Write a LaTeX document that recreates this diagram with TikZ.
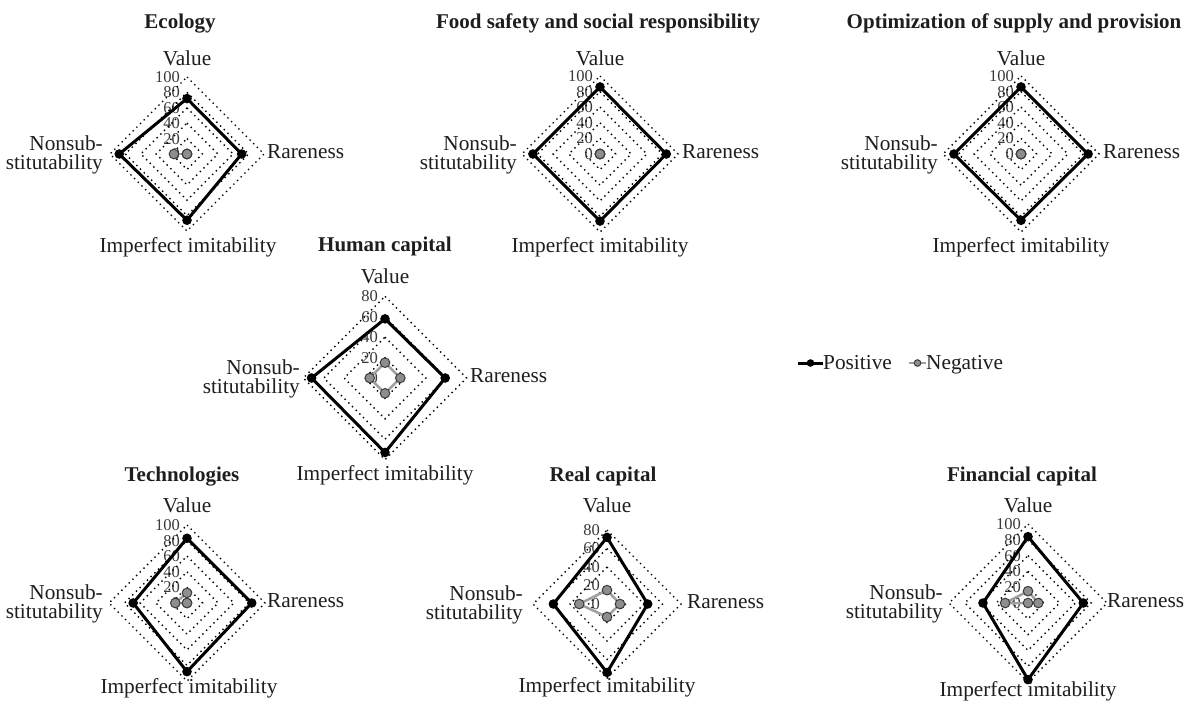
\documentclass[tikz,border=0pt]{standalone}
\usepackage{fontspec}
\setmainfont{Liberation Serif}
\definecolor{neggray}{HTML}{A0A0A0}
\definecolor{negfill}{HTML}{8E8E8E}
\definecolor{negedge}{HTML}{3C3C3C}
\definecolor{txt}{HTML}{1E1E1E}
\definecolor{ticktxt}{HTML}{3A3A3A}
\tikzset{
  ring/.style={black, line width=1.4pt, dash pattern=on 1.4pt off 3.8pt},
  tick/.style={anchor=east, inner sep=0pt, text=ticktxt, font=\fontsize{16.5}{16.5}\selectfont},
  lbl/.style={inner sep=0pt, text=txt, font=\fontsize{21.3}{19}\selectfont},
  ttl/.style={inner sep=0pt, anchor=base, text=txt, font=\fontsize{21}{21}\selectfont\bfseries},
  posline/.style={black, line width=3pt, line join=round},
  poslinedot/.style={fill=black},
  negline/.style={neggray, line width=2.5pt, line join=round},
  neglinedot/.style={fill=negfill, draw=negedge, line width=1pt},
}
% rings and tick labels: #1 name, #2 cx, #3 cy, #4 px per unit, #5 max
\newcommand\radarrings[5]{%
  \foreach \k in {20,40,...,#5}{%
    \draw[ring] (#2,{#3-\k*#4}) -- ({#2+\k*#4},#3) -- (#2,{#3+\k*#4}) -- ({#2-\k*#4},#3) -- cycle;
    \node[tick] (#1t\k) at (#2-7,{#3-\k*#4}) {\k};
  }
  \node[tick] (#1t0) at (#2-7,#3) {0};
}
% series: #1 name, #2 cx, #3 cy, #4 px per unit, #5 V, #6 R, #7 I, #8 N, #9 posline/negline
\newcommand\radarseries[9]{%
  \coordinate (#1#9V) at (#2,{#3-#5*#4});
  \coordinate (#1#9R) at ({#2+#6*#4},#3);
  \coordinate (#1#9I) at (#2,{#3+#7*#4});
  \coordinate (#1#9N) at ({#2-#8*#4},#3);
  \draw[#9] (#1#9V) -- (#1#9R) -- (#1#9I) -- (#1#9N) -- cycle;
  \foreach \p in {V,R,I,N}{\path[#9dot] (#1#9\p) circle (4.8pt);}
}
\begin{document}
\begin{tikzpicture}[x=1pt,y=-1pt]
\useasboundingbox[fill=white] (0,0) rectangle (1188,704);

% ---------------- Ecology
\radarrings{eco}{187}{154}{0.77}{100}
\radarseries{eco}{187}{154}{0.77}{72}{71}{86}{88}{posline}
\radarseries{eco}{187}{154}{0.77}{0}{0}{0}{17}{negline}
\node[ttl] (ecoT) at (180,28) {Ecology};
\node[lbl, anchor=base] (ecoLV) at (187,65) {Value};
\node[lbl, anchor=base west] (ecoLR) at (267,158) {Rareness};
\node[lbl, anchor=base] (ecoLI) at (188,252) {Imperfect imitability};
\node[lbl, anchor=east, align=right] (ecoLN) at (103,155) {Nonsub-\\stitutability};

% ---------------- Food safety
\radarrings{food}{600}{154}{0.78}{100}
\radarseries{food}{600}{154}{0.78}{86}{85}{86}{86}{posline}
\radarseries{food}{600}{154}{0.78}{0}{0}{0}{0}{negline}
\node[ttl] (foodT) at (598,28) {Food safety and social responsibility};
\node[lbl, anchor=base] (foodLV) at (600,65) {Value};
\node[lbl, anchor=base west] (foodLR) at (682,158) {Rareness};
\node[lbl, anchor=base] (foodLI) at (600,252) {Imperfect imitability};
\node[lbl, anchor=east, align=right] (foodLN) at (517,155) {Nonsub-\\stitutability};

% ---------------- Optimization
\radarrings{opt}{1021}{154}{0.78}{100}
\radarseries{opt}{1021}{154}{0.78}{86}{86}{85}{86}{posline}
\radarseries{opt}{1021}{154}{0.78}{0}{0}{0}{0}{negline}
\node[ttl] (optT) at (1014,28) {Optimization of supply and provision};
\node[lbl, anchor=base] (optLV) at (1021,65) {Value};
\node[lbl, anchor=base west] (optLR) at (1103,158) {Rareness};
\node[lbl, anchor=base] (optLI) at (1021,252) {Imperfect imitability};
\node[lbl, anchor=east, align=right] (optLN) at (938,155) {Nonsub-\\stitutability};

% ---------------- Human capital
\radarrings{hum}{385}{378}{1.02}{80}
\radarseries{hum}{385}{378}{1.02}{58}{59}{73}{72}{posline}
\radarseries{hum}{385}{378}{1.02}{15}{15}{15}{15}{negline}
\node[ttl] (humT) at (385,251) {Human capital};
\node[lbl, anchor=base] (humLV) at (385,283) {Value};
\node[lbl, anchor=base west] (humLR) at (470,382) {Rareness};
\node[lbl, anchor=base] (humLI) at (385,480) {Imperfect imitability};
\node[lbl, anchor=east, align=right] (humLN) at (300,379) {Nonsub-\\stitutability};

% ---------------- Technologies
\radarrings{tec}{187}{603}{0.78}{100}
\radarseries{tec}{187}{603}{0.78}{83}{83}{88}{69}{posline}
\radarseries{tec}{187}{603}{0.78}{13}{0}{0}{15}{negline}
\node[ttl] (tecT) at (182,481) {Technologies};
\node[lbl, anchor=base] (tecLV) at (187,512) {Value};
\node[lbl, anchor=base west] (tecLR) at (267,607) {Rareness};
\node[lbl, anchor=base] (tecLI) at (189,693) {Imperfect imitability};
\node[lbl, anchor=east, align=right] (tecLN) at (103,604) {Nonsub-\\stitutability};

% ---------------- Real capital
\radarrings{rea}{607}{604}{0.925}{80}
\radarseries{rea}{607}{604}{0.925}{72}{44}{74}{58}{posline}
\radarseries{rea}{607}{604}{0.925}{15}{14}{14}{30}{negline}
\node[ttl] (reaT) at (603,481) {Real capital};
\node[lbl, anchor=base] (reaLV) at (607,512) {Value};
\node[lbl, anchor=base west] (reaLR) at (687,608) {Rareness};
\node[lbl, anchor=base] (reaLI) at (607,692) {Imperfect imitability};
\node[lbl, anchor=east, align=right] (reaLN) at (523,605) {Nonsub-\\stitutability};

% ---------------- Financial capital
\radarrings{fin}{1028}{603}{0.79}{100}
\radarseries{fin}{1028}{603}{0.79}{84}{70}{97}{57}{posline}
\radarseries{fin}{1028}{603}{0.79}{15}{13}{0}{29}{negline}
\node[ttl] (finT) at (1022,481) {Financial capital};
\node[lbl, anchor=base] (finLV) at (1028,512) {Value};
\node[lbl, anchor=base west] (finLR) at (1107,607) {Rareness};
\node[lbl, anchor=base] (finLI) at (1028,696) {Imperfect imitability};
\node[lbl, anchor=east, align=right] (finLN) at (943,604) {Nonsub-\\stitutability};

% ---------------- Legend
\coordinate (lgPa) at (798,363);
\coordinate (lgPb) at (823,363);
\coordinate (lgPc) at (810.5,363);
\draw[posline] (lgPa) -- (lgPb);
\path[poslinedot] (lgPc) circle (3.8pt);
\node[lbl, anchor=base west] (lgP) at (823,369) {Positive};
\coordinate (lgNa) at (909,363);
\coordinate (lgNb) at (926,363);
\coordinate (lgNc) at (917.5,363);
\draw[negline] (lgNa) -- (lgNb);
\path[neglinedot] (lgNc) circle (3.3pt);
\node[lbl, anchor=base west] (lgN) at (926,369) {Negative};
\end{tikzpicture}
\end{document}
